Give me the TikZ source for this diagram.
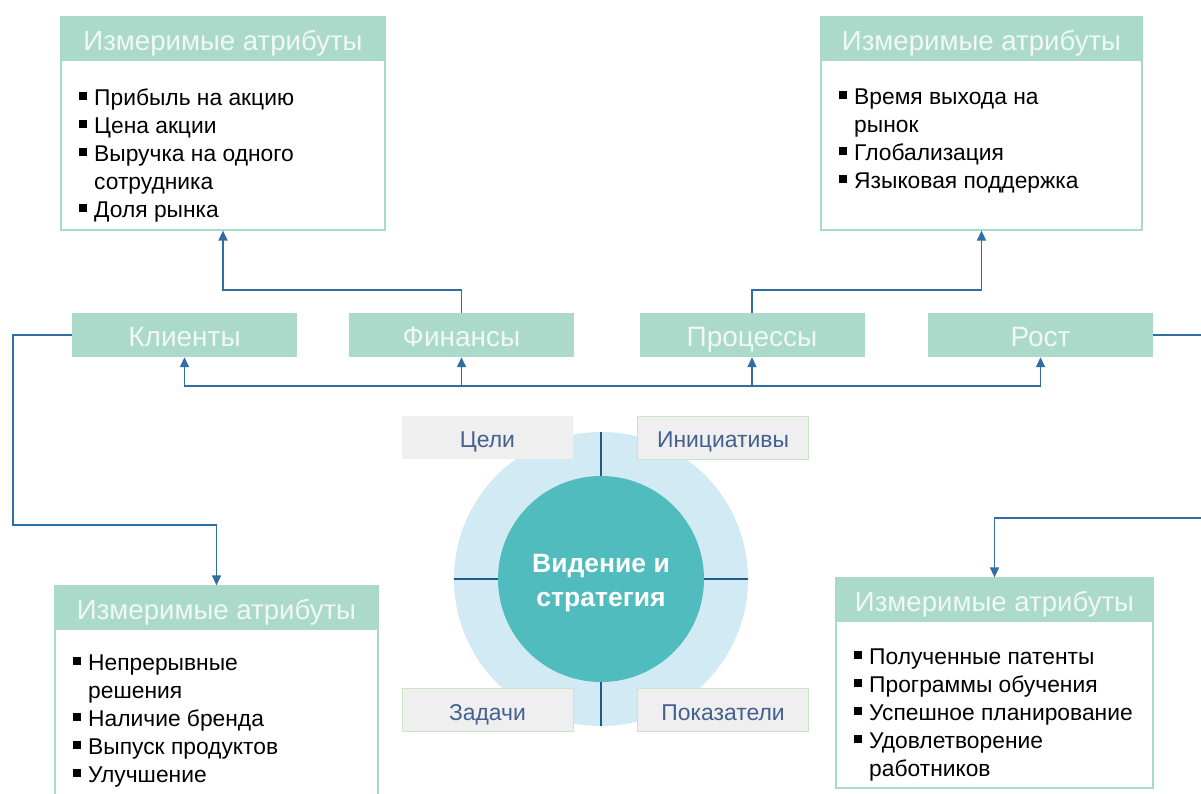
\documentclass[tikz,border=0pt]{standalone}
\usepackage{fontspec}
\setmainfont{Liberation Sans}
\usetikzlibrary{arrows.meta,calc}

\definecolor{mint}{HTML}{ABD9CA}
\definecolor{mintline}{HTML}{A9D9CA}
\definecolor{hdrtext}{HTML}{F0F9F4}
\definecolor{linkblue}{HTML}{2F6EA5}
\definecolor{crossblue}{HTML}{1E5A8C}
\definecolor{ringblue}{HTML}{D2EAF4}
\definecolor{coreteal}{HTML}{50BCBE}
\definecolor{chipgray}{HTML}{EFEFEF}
\definecolor{chipline}{HTML}{C8E6C3}
\definecolor{chiptext}{HTML}{44608F}

% bullet square followed by the item text
\newcommand{\sqb}{\makebox[15pt][l]{\rule[6pt]{7.5pt}{7.5pt}}}
\newcommand{\cont}{\hspace*{15pt}}

\begin{document}
\begin{tikzpicture}[x=1pt,y=-1pt,
  attrframe/.style={draw=mintline, line width=1.2pt, fill=white, inner sep=0pt},
  hdr/.style={fill=mint, text=hdrtext, inner sep=0pt, minimum height=44pt,
    text height=28pt, text depth=6pt, font=\fontsize{27.6}{30}\selectfont},
  list/.style={anchor=north west, inner sep=0pt, align=left,
    font=\fontsize{22.8}{28}\selectfont},
  cat/.style={fill=mint, text=hdrtext, inner sep=0pt, minimum width=225pt,
    minimum height=44pt, text height=29.4pt, text depth=6pt,
    font=\fontsize{28}{30}\selectfont},
  chip/.style={fill=chipgray, text=chiptext, inner sep=0pt, minimum width=171pt,
    minimum height=43pt, text height=25pt, text depth=5pt,
    font=\fontsize{22.9}{25}\selectfont},
  link/.style={draw=linkblue, line width=1.4pt},
  tip/.style={-{Triangle[length=10pt,width=9pt]}},
  cross/.style={draw=crossblue, line width=1.1pt}]

\useasboundingbox (0,0) rectangle (1201,793);
\fill[white] (0,0) rectangle (1201,793);

% ---------- attribute boxes ----------
\node[attrframe, minimum width=324pt, minimum height=213pt] (tlbox) at (223,123.5) {};
\node[hdr, minimum width=322pt] (tlhead) at (223,39) {Измеримые атрибуты};
\node[list] (tllist) at (79,89) {\sqb Прибыль на акцию\\ \sqb Цена акции\\
  \sqb Выручка на одного\\ \cont сотрудника\\ \sqb Доля рынка};

\node[attrframe, minimum width=321pt, minimum height=213pt] (trbox) at (981.5,123.5) {};
\node[hdr, minimum width=319pt] (trhead) at (981.5,39) {Измеримые атрибуты};
\node[list] (trlist) at (839,89) {\sqb Время выхода на\\ \cont рынок\\
  \sqb Глобализация\\ \sqb Языковая поддержка};

\node[attrframe, minimum width=323pt, minimum height=230pt] (blbox) at (216.5,701) {};
\node[hdr, minimum width=321pt] (blhead) at (216.5,608) {Измеримые атрибуты};
\node[list] (bllist) at (73,655) {\sqb Непрерывные\\ \cont решения\\
  \sqb Наличие бренда\\ \sqb Выпуск продуктов\\ \sqb Улучшение};

\node[attrframe, minimum width=317pt, minimum height=210pt] (brbox) at (994.5,683) {};
\node[hdr, minimum width=315pt] (brhead) at (994.5,600) {Измеримые атрибуты};
\node[list] (brlist) at (854,649) {\sqb Полученные патенты\\ \sqb Программы обучения\\
  \sqb Успешное планирование\\ \sqb Удовлетворение\\ \cont работников};

% ---------- perspectives ----------
\node[cat] (kl)   at (184.5,335) {Клиенты};
\node[cat] (fin)  at (461.5,335) {Финансы};
\node[cat] (proc) at (752,335)   {Процессы};
\node[cat] (rost) at (1040.5,335) {Рост};

% ---------- vision and strategy ----------
\node[circle, fill=ringblue, minimum size=294pt, inner sep=0pt] (ring) at (601,579) {};
\node[circle, fill=coreteal, minimum size=206pt, inner sep=0pt] (core) at (601,579) {};
\node[text=white, align=center, inner sep=0pt,
  font=\bfseries\fontsize{26.5}{33.5}\selectfont] (vision) at ([yshift=-4pt]core.center)
  {Видение и\\стратегия};
\draw[cross] (ring.north) -- (core.north);
\draw[cross] (ring.south) -- (core.south);
\draw[cross] (ring.west) -- (core.west);
\draw[cross] (ring.east) -- (core.east);

\node[chip] (goals) at (487.5,437.5) {Цели};
\node[chip, draw=chipline, line width=1pt] (init) at (723,437.5) {Инициативы};
\node[chip, draw=chipline, line width=1pt] (tasks) at (487.5,710) {Задачи};
\node[chip, draw=chipline, line width=1pt] (kpi) at (723,710) {Показатели};

% ---------- connectors ----------
\coordinate (bus) at (0,386);
\coordinate (upper) at (0,290);
\draw[link, {Triangle[length=10pt,width=9pt]}-{Triangle[length=10pt,width=9pt]}]
  (kl.south) |- (rost.south |- bus) -- (rost.south);
\draw[link, tip] (fin.south |- bus) -- (fin.south);
\draw[link, tip] (proc.south |- bus) -- (proc.south);

\draw[link, tip] (fin.north) |- (tlbox.south |- upper) -- (tlbox.south);
\draw[link, tip] (proc.north) |- (trbox.south |- upper) -- (trbox.south);

\coordinate (leftturn) at (13,525);
\draw[link, tip] (kl.west) -| (leftturn) -- (blbox.north |- leftturn) -- (blbox.north);

\coordinate (rightturn) at (1240,518);
\draw[link, tip] (rost.east) -| (rightturn) -- (brbox.north |- rightturn) -- (brbox.north);

\end{tikzpicture}
\end{document}
